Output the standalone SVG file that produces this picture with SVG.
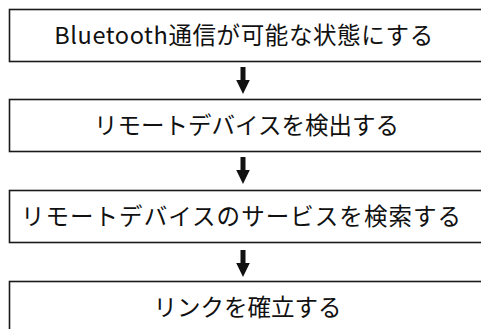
<svg xmlns="http://www.w3.org/2000/svg" width="481" height="329" viewBox="0 0 481 329">
<style>
.box{fill:#fff;stroke:#1a1a1a;stroke-width:1.6}
.lbl{font-family:"Noto Sans CJK JP","Noto Sans",sans-serif;font-size:23.5px;font-weight:400;fill:#111;text-anchor:middle}
.arr{fill:#111}
</style>
<defs>
<path id="arrow" d="M-2.5,0 H2.5 V13 H6.8 L0,27 L-6.8,13 H-2.5 Z"/>
</defs>
<rect width="481" height="329" fill="#fff"/>
<g id="connectors">
<use href="#arrow" class="arr" x="243" y="67"/>
<use href="#arrow" class="arr" x="243" y="157"/>
<use href="#arrow" class="arr" x="243" y="250"/>
</g>
<g id="node1">
<rect class="box" x="9.5" y="9.5" width="490" height="52"/>
<text class="lbl" x="244" y="44" letter-spacing="0.6">Bluetooth通信が可能な状態にする</text>
</g>
<g id="node2">
<rect class="box" x="9.5" y="99.5" width="490" height="52"/>
<text class="lbl" x="246.5" y="134">リモートデバイスを検出する</text>
</g>
<g id="node3">
<rect class="box" x="9.5" y="190.5" width="490" height="52"/>
<text class="lbl" x="241.5" y="225" letter-spacing="1.05">リモートデバイスのサービスを検索する</text>
</g>
<g id="node4">
<rect class="box" x="9.5" y="281.5" width="490" height="52"/>
<text class="lbl" x="247.5" y="316">リンクを確立する</text>
</g>
</svg>
